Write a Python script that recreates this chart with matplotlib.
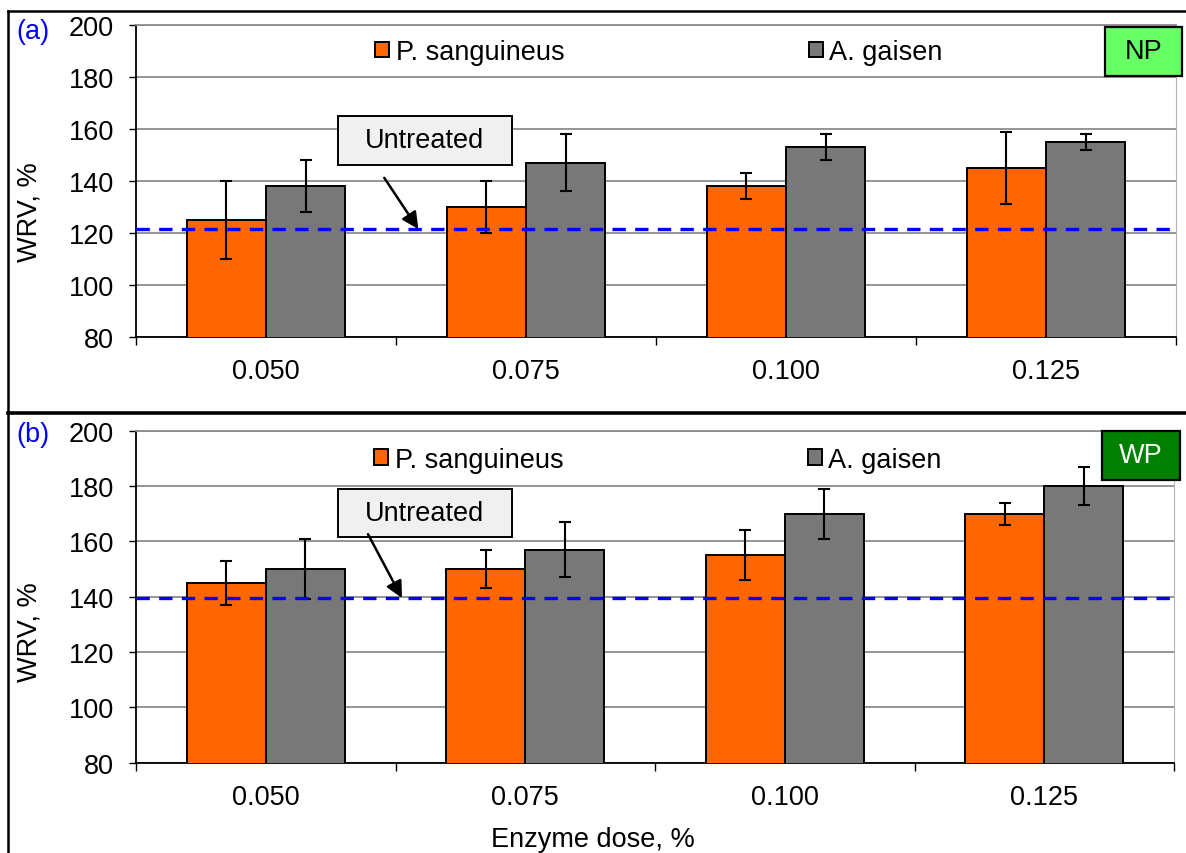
import matplotlib
matplotlib.use("Agg")
import matplotlib.pyplot as plt
import numpy as np
from matplotlib.patches import Rectangle
from matplotlib.lines import Line2D

plt.rcParams['font.family'] = ['Liberation Sans', 'DejaVu Sans']

# ---- data -------------------------------------------------------------
doses = ['0.050', '0.075', '0.100', '0.125']
series_names = ['P. sanguineus', 'A. gaisen']

np_sang = [125, 130, 138, 145]
np_sang_err = [15, 10, 5, 14]
np_gais = [138, 147, 153, 155]
np_gais_err = [10, 11, 5, 3]
np_untreated = 121.5

wp_sang = [145, 150, 155, 170]
wp_sang_err = [8, 7, 9, 4]
wp_gais = [150, 157, 170, 180]
wp_gais_err = [11, 10, 9, 7]
wp_untreated = 139.5

# ---- styling ----------------------------------------------------------
ORANGE = '#ff6600'
GREY = '#787878'
GRID = '#8c8c8c'
FS = 19.5

W, H = 1186, 854
fig = plt.figure(figsize=(W / 100, H / 100), dpi=100)


def fx(px):
    return px / W


def fy(py):
    return 1 - py / H


def panel(ax, sang, sang_err, gais, gais_err, untreated, box, arrow_start):
    x = np.arange(len(doses))
    w = 0.305
    ekw = dict(elinewidth=1.5, capthick=1.5, ecolor='black')
    ax.bar(x - w / 2, sang, w, yerr=sang_err, capsize=4.5, color=ORANGE,
           edgecolor='black', linewidth=1.4, error_kw=ekw, zorder=3,
           label=series_names[0])
    ax.bar(x + w / 2, gais, w, yerr=gais_err, capsize=4.5, color=GREY,
           edgecolor='black', linewidth=1.4, error_kw=ekw, zorder=3,
           label=series_names[1])
    ax.axhline(untreated, color='#0000ff', lw=2.4, dashes=(4.0, 2.8), zorder=4)

    ax.set_xlim(-0.5, len(doses) - 0.5)
    ax.set_ylim(80, 200)
    ax.set_yticks(np.arange(80, 201, 20))
    ax.set_xticks(x)
    ax.set_xticklabels(doses)
    ax.set_xticks(np.arange(-0.5, len(doses)), minor=True)
    ax.tick_params(axis='x', which='major', length=0, pad=15, labelsize=FS)
    ax.tick_params(axis='x', which='minor', length=6, width=1.0, direction='out')
    ax.tick_params(axis='y', length=5, width=1.0, direction='out', pad=11,
                   labelsize=FS)
    ax.yaxis.grid(True, color=GRID, lw=1.3)
    ax.set_axisbelow(True)
    ax.spines['top'].set_color(GRID)
    ax.spines['top'].set_linewidth(1.3)
    ax.spines['right'].set_color('#b4b4b4')
    ax.spines['left'].set_linewidth(1.3)
    ax.spines['bottom'].set_linewidth(1.3)

    ax.legend(loc='center', bbox_to_anchor=(0.503, 0.913), ncol=2,
              frameon=False, fontsize=FS, columnspacing=9.0,
              handlelength=0.52, handleheight=0.52, handletextpad=0.25,
              borderaxespad=0)

    # "Untreated" callout
    x0, x1, y0, y1 = box
    ax.add_patch(Rectangle((x0, y0), x1 - x0, y1 - y0, facecolor='#f0f0f0',
                           edgecolor='black', lw=1.4, zorder=5))
    ax.text((x0 + x1) / 2, (y0 + y1) / 2, 'Untreated', ha='center',
            va='center', fontsize=FS, zorder=6)
    ax.annotate('', xy=(arrow_start[2], untreated),
                xytext=(arrow_start[0], arrow_start[1]),
                arrowprops=dict(arrowstyle='-|>', color='black', lw=1.8,
                                mutation_scale=25, shrinkA=0, shrinkB=0),
                zorder=6)


ax_top = fig.add_axes([fx(136), fy(338), fx(1176) - fx(136), (338 - 26) / H])
ax_bot = fig.add_axes([fx(136), fy(763.7), fx(1174) - fx(136),
                       (763.7 - 431.7) / H])

panel(ax_top, np_sang, np_sang_err, np_gais, np_gais_err, np_untreated,
      box=(0.276, 0.945, 146.3, 164.9), arrow_start=(0.455, 141.2, 0.586))
panel(ax_bot, wp_sang, wp_sang_err, wp_gais, wp_gais_err, wp_untreated,
      box=(0.278, 0.949, 161.6, 178.9), arrow_start=(0.394, 162.6, 0.525))

# panel tags in the top-right corner
for (l, t, r, b), tag, face, tcol in [((1105, 27.7, 1181.7, 76.7), 'NP', '#66ff66', 'black'),
                                      ((1102, 432.3, 1180, 480.7), 'WP', '#008000', 'white')]:
    fig.add_artist(Rectangle((fx(l), fy(b)), fx(r) - fx(l), (b - t) / H,
                             transform=fig.transFigure, facecolor=face,
                             edgecolor='black', lw=1.6, zorder=10))
    fig.text(fx((l + r) / 2), fy((t + b) / 2), tag, ha='center', va='center',
             fontsize=FS, color=tcol, zorder=11)

# panel letters and axis titles
fig.text(fx(16), fy(32), '(a)', color='#0000ff', fontsize=FS, ha='left', va='center')
fig.text(fx(16), fy(435), '(b)', color='#0000ff', fontsize=FS, ha='left', va='center')
fig.text(fx(29), fy(212.5), 'WRV, %', rotation=90, ha='center', va='center', fontsize=FS)
fig.text(fx(29), fy(632), 'WRV, %', rotation=90, ha='center', va='center', fontsize=FS)
fig.text(fx(593), fy(847), 'Enzyme dose, %', ha='center', va='baseline', fontsize=FS)

# outer frames around the two panels
for xs, ys, lw in [((7.5, W), (12, 12), 1.8),
                   ((7.5, 7.5), (12, H), 1.8),
                   ((7.5, W), (414, 414), 2.6)]:
    fig.add_artist(Line2D([fx(v) for v in xs], [fy(v) for v in ys],
                          transform=fig.transFigure, color='black', lw=lw))

fig.savefig('out.png', dpi=100)
